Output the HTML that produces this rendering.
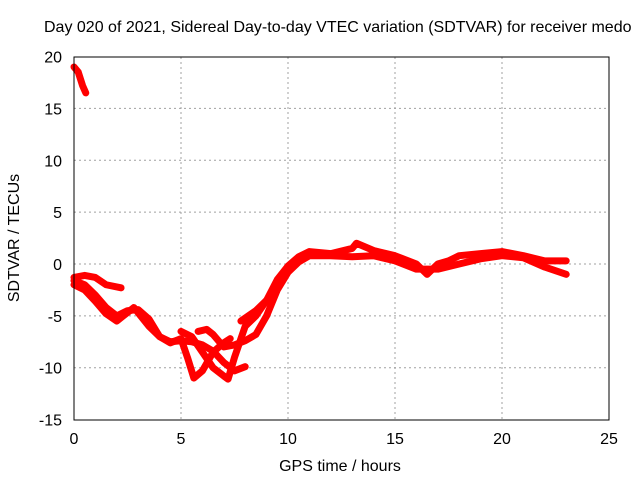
<!DOCTYPE html>
<html><head><meta charset="utf-8"><style>
body{margin:0;background:#fff}
svg text{font-family:"Liberation Sans",sans-serif;font-size:16px;fill:#000}
</style></head><body>
<svg id="chart" width="640" height="480" xmlns="http://www.w3.org/2000/svg">
<rect width="640" height="480" fill="#fff"/>
<text x="44" y="32">Day 020 of 2021, Sidereal Day-to-day VTEC variation (SDTVAR) for receiver medo</text>
<g id="grid"></g><g id="series"></g>
<rect x="74" y="57" width="535" height="363" fill="none" stroke="#000" stroke-width="1"/>
<g id="ticks"></g>
<text x="340" y="471" text-anchor="middle">GPS time / hours</text>
<text transform="translate(19,238) rotate(-90)" text-anchor="middle">SDTVAR / TECUs</text>
</svg>
<script>
const xTicks=[0,5,10,15,20,25];
const yTicks=[-15,-10,-5,0,5,10,15,20];
const trackTopX=[0,0.2,0.4,0.55];
const trackTopY=[19,18.5,17.2,16.5];
const trackAX=[0,0.5,1,1.5,2.2];
const trackAY=[-1.3,-1.1,-1.3,-2,-2.3];
const trackBX=[0,0.5,1,1.5,2,2.5,3,3.5,4,4.5,5,5.5,6,6.5,7,7.5,8];
const trackBY=[-1.6,-2,-3,-4.2,-5,-4.5,-4.4,-5.3,-7,-7.5,-7.4,-7.5,-7.8,-8.4,-9.5,-10.3,-9.9];
const trackCX=[0,0.5,1,1.5,2,2.3,2.8,3.5,4,4.5,5,5.3,5.6,6,6.5,7,7.3];
const trackCY=[-2,-2.5,-3.6,-4.8,-5.5,-5,-4.2,-6,-7,-7.6,-7.2,-9,-11,-10.3,-8.5,-7.6,-7.2];
const trackDX=[5,5.5,6,6.5,7,7.2,7.5,8,8.5,9,9.5,10,10.5,11,12,13,13.2,14,15,16,16.5,17,17.5,18,19,20,21,22,23];
const trackDY=[-6.5,-7,-8.5,-10,-10.8,-11.1,-9,-6,-5,-3.5,-1.5,-0.2,0.7,1.2,1,1.5,2,1.3,0.8,0,-1,0,0.3,0.8,1,1.2,0.8,0.3,0.3];
const trackEX=[5.8,6.2,6.5,7,7.5,8,8.5,9,9.5,10,10.5,11,12,13,14,15,16,17,18,19,20,21,22,23];
const trackEY=[-6.5,-6.3,-6.8,-8,-7.8,-7.4,-6.8,-5,-2.5,-0.8,0.2,0.8,0.8,0.7,0.8,0.3,-0.5,-0.5,0,0.5,0.8,0.6,-0.3,-1];
const trackFX=[7.8,8.5,9,9.5,10];
const trackFY=[-5.5,-4.5,-3.5,-2,-0.6];
const tracks=[[trackTopX,trackTopY],[trackAX,trackAY],[trackBX,trackBY],[trackCX,trackCY],[trackDX,trackDY],[trackEX,trackEY],[trackFX,trackFY]];
const X=h=>74+h*535/25, Y=v=>264-v*363/35;
const NS="http://www.w3.org/2000/svg";
const grid=document.getElementById('grid'),ticks=document.getElementById('ticks'),ser=document.getElementById('series');
function mk(t,a,p){const e=document.createElementNS(NS,t);for(const k in a)e.setAttribute(k,a[k]);p.appendChild(e);return e;}
xTicks.forEach(t=>{
 if(t>0&&t<25){const g=mk('line',{x1:X(t),x2:X(t),y1:57,y2:420,stroke:'#a0a0a0','stroke-dasharray':'2,3'},grid);
 
 }
 const l=mk('text',{x:X(t),y:444,'text-anchor':'middle'},ticks);l.textContent=t;
 
 
});
yTicks.forEach(t=>{
 if(t>-15&&t<20){const g=mk('line',{x1:74,x2:609,y1:Y(t),y2:Y(t),stroke:'#a0a0a0','stroke-dasharray':'2,3'},grid);
 
 }
 const l=mk('text',{x:62,y:Y(t)+6,'text-anchor':'end'},ticks);l.textContent=t;
 
 
});
tracks.forEach(([xs,ys])=>{
 const p=mk('polyline',{points:xs.map((x,i)=>X(x)+','+Y(ys[i])).join(' '),fill:'none',stroke:'#ff0000','stroke-width':7,'stroke-linejoin':'round','stroke-linecap':'round'},ser);
 
 
});
</script>
</body></html>
